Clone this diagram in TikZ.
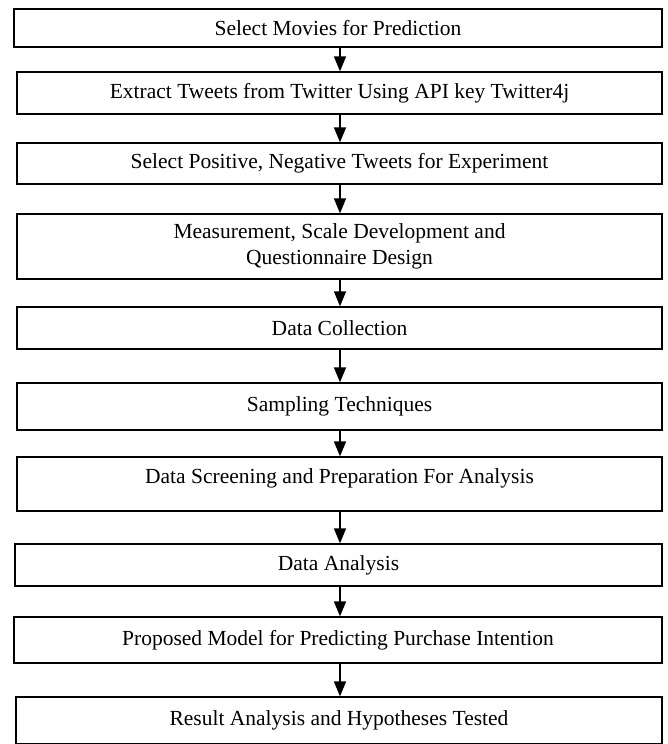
\documentclass[tikz,border=0pt]{standalone}
\usepackage{fontspec}
\setmainfont{Liberation Serif}
\usetikzlibrary{arrows.meta}
\begin{document}
\begin{tikzpicture}[x=1pt,y=-1pt,
  stepbox/.style={draw=black, line width=1.3pt, inner sep=0pt, align=center,
    font=\fontsize{21.5}{26}\selectfont},
  arr/.style={line width=1.5pt, -{Triangle[length=15pt,width=12pt]}}]
\useasboundingbox (0,0) rectangle (667,744);
\coordinate (ax) at (340,0);
\node[stepbox, minimum width=648pt, minimum height=38pt] (b1) at (338,28) {Select Movies for Prediction};
\node[stepbox, minimum width=645pt, minimum height=42pt] (b2) at (339.5,93) {Extract Tweets from Twitter Using API key Twitter4j};
\node[stepbox, minimum width=645pt, minimum height=41pt] (b3) at (339.5,163.5) {Select Positive, Negative Tweets for Experiment};
\node[stepbox, minimum width=645pt, minimum height=65pt] (b4) at (339.5,246.5) {Measurement, Scale Development and\\Questionnaire Design};
\node[stepbox, minimum width=645pt, minimum height=42pt] (b5) at (339.5,328) {Data Collection};
\node[stepbox, minimum width=645pt, minimum height=47pt] (b6) at (339.5,406.5) {Sampling Techniques};
\node[stepbox, minimum width=645pt, minimum height=54pt, text depth=15pt] (b7) at (339.5,484) {Data Screening and Preparation For Analysis};
\node[stepbox, minimum width=647pt, minimum height=42pt] (b8) at (338.5,565) {Data Analysis};
\node[stepbox, minimum width=648pt, minimum height=46pt] (b9) at (338,640) {Proposed Model for Predicting Purchase Intention};
\node[stepbox, minimum width=646pt, minimum height=47pt] (b10) at (339,720.5) {Result Analysis and Hypotheses Tested};
\foreach \a/\b in {b1/b2,b2/b3,b3/b4,b4/b5,b5/b6,b6/b7,b7/b8,b8/b9,b9/b10}
  \draw[arr] (\a.south -| ax) -- (\b.north -| ax);
\end{tikzpicture}
\end{document}
